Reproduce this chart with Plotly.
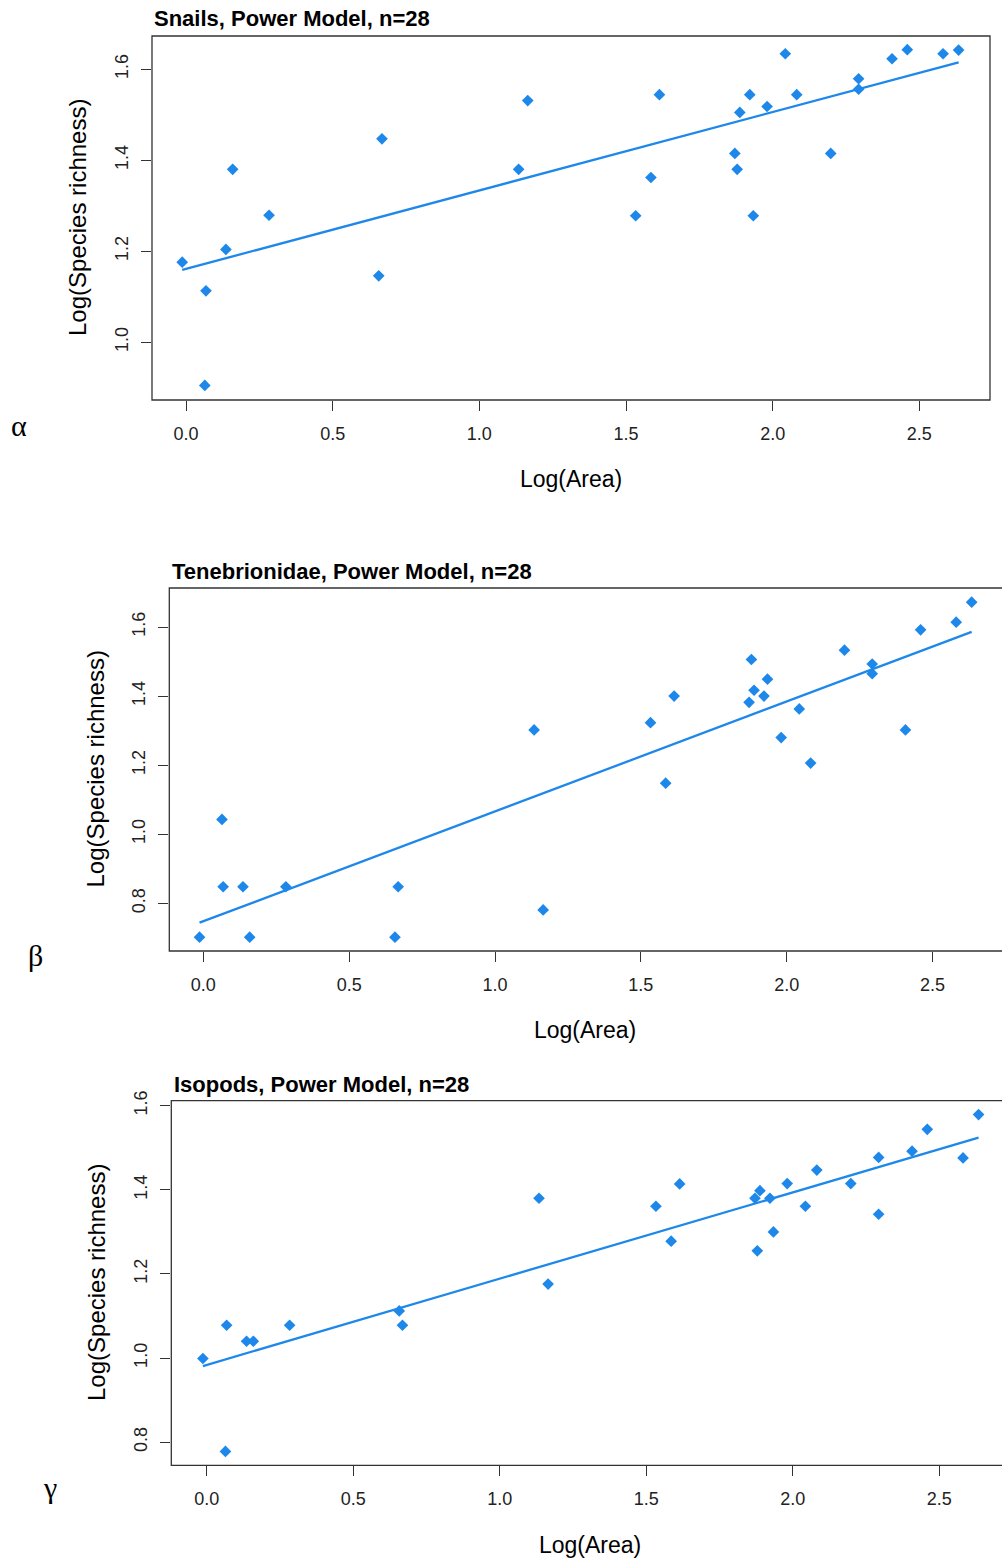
import plotly.graph_objects as go

W, H = 1002, 1562

# Shared island areas (Log(Area))
log_area = [-0.013, 0.064, 0.068, 0.136, 0.159, 0.283, 0.657, 0.668, 1.134, 1.165,
            1.533, 1.585, 1.614, 1.871, 1.879, 1.888, 1.922, 1.934, 1.981, 2.043,
            2.082, 2.198, 2.293, 2.293, 2.407, 2.459, 2.581, 2.634]

snails = [1.176, 0.905, 1.113, 1.204, 1.380, 1.279, 1.146, 1.447, 1.380, 1.531,
          1.278, 1.362, 1.544, 1.415, 1.380, 1.505, 1.544, 1.278, 1.518, 1.634,
          1.544, 1.415, 1.579, 1.556, 1.623, 1.643, 1.634, 1.642]

tenebrionidae = [0.702, 1.043, 0.848, 0.848, 0.702, 0.848, 0.702, 0.848, 1.302, 0.781,
                 1.323, 1.148, 1.400, 1.382, 1.506, 1.417, 1.400, 1.449, 1.280, 1.363,
                 1.206, 1.533, 1.493, 1.465, 1.302, 1.592, 1.614, 1.672]

isopods = [0.999, 0.778, 1.078, 1.040, 1.040, 1.078, 1.112, 1.078, 1.380, 1.176,
           1.361, 1.278, 1.414, 1.380, 1.255, 1.398, 1.380, 1.300, 1.415, 1.361,
           1.447, 1.415, 1.477, 1.342, 1.492, 1.544, 1.476, 1.579]

# Fitted power-model lines (end points)
fit_x = [-0.013, 2.634]
snails_fit = [1.159, 1.615]
teneb_fit = [0.744, 1.586]
isopods_fit = [0.981, 1.524]

titles = ["Snails, Power Model, n=28", "Tenebrionidae, Power Model, n=28",
          "Isopods, Power Model, n=28"]
greek = ["\u03b1", "\u03b2", "\u03b3"]
x_ticks = [0.0, 0.5, 1.0, 1.5, 2.0, 2.5]
x_ticktext = ["0.0", "0.5", "1.0", "1.5", "2.0", "2.5"]
y_ticks = [[1.0, 1.2, 1.4, 1.6], [0.8, 1.0, 1.2, 1.4, 1.6], [0.8, 1.0, 1.2, 1.4, 1.6]]
x_title = "Log(Area)"
y_title = "Log(Species richness)"

series = [snails, tenebrionidae, isopods]
fits = [snails_fit, teneb_fit, isopods_fit]

panels = [
    dict(l=152, r=990, br=990, t=36, b=400, xr=[-0.116, 2.741], yr=[0.873, 1.673],
         title_xy=(152, 19), ytitle_x=77, xtitle_y=479, greek_xy=(19, 425)),
    dict(l=169.3, r=1002, br=1004, t=588, b=951, xr=[-0.1166, 2.738], yr=[0.662, 1.713],
         title_xy=(170, 571), ytitle_x=95, xtitle_y=1030, greek_xy=(35, 955)),
    dict(l=171.3, r=1002, br=1010, t=1100.7, b=1465.3, xr=[-0.1208, 2.714], yr=[0.745, 1.612],
         title_xy=(171.5, 1084), ytitle_x=96, xtitle_y=1545, greek_xy=(50, 1487)),
]

BLUE = "#1E88EA"
AX = "#333333"
FONT = "Liberation Sans, Arial, sans-serif"

fig = go.Figure()
layout = dict(width=W, height=H, margin=dict(l=0, r=0, t=0, b=0, pad=0, autoexpand=False),
              paper_bgcolor="white", plot_bgcolor="white", showlegend=False,
              shapes=[], annotations=[])

def px(x):
    return x / W

def py(y):
    return 1 - y / H

for i, p in enumerate(panels):
    n = "" if i == 0 else str(i + 1)
    xa, ya = "x" + n, "y" + n
    fig.add_trace(go.Scatter(x=log_area, y=series[i], mode="markers", xaxis=xa, yaxis=ya,
                             marker=dict(symbol="diamond", size=9, color=BLUE,
                                         line=dict(width=0)), cliponaxis=False))
    fig.add_trace(go.Scatter(x=fit_x, y=fits[i], mode="lines", xaxis=xa, yaxis=ya,
                             line=dict(color=BLUE, width=2.3)))
    layout["xaxis" + n] = dict(domain=[px(p["l"]), px(p["r"])], range=p["xr"], anchor=ya,
                               tickvals=x_ticks, ticktext=x_ticktext, ticks="outside",
                               ticklen=10, tickwidth=1, tickcolor=AX, showgrid=False,
                               zeroline=False, showline=False, ticklabelstandoff=7,
                               automargin=False,
                               tickfont=dict(family=FONT, size=18, color="#222222"))
    layout["yaxis" + n] = dict(domain=[py(p["b"]), py(p["t"])], range=p["yr"], anchor=xa,
                               tickvals=y_ticks[i], ticktext=["%.1f" % v for v in y_ticks[i]],
                               ticks="outside", ticklen=10, tickwidth=1, tickcolor=AX,
                               showgrid=False, zeroline=False, showline=False,
                               tickangle=-90, ticklabelstandoff=6, automargin=False,
                               tickfont=dict(family=FONT, size=18, color="#222222"))
    layout["shapes"].append(dict(type="rect", xref="paper", yref="paper",
                                 x0=px(p["l"]), x1=px(p["br"]), y0=py(p["b"]), y1=py(p["t"]),
                                 line=dict(color=AX, width=1.3), layer="above"))
    layout["annotations"].append(dict(text="<b>%s</b>" % titles[i], xref="paper", yref="paper",
                                      x=px(p["title_xy"][0]), y=py(p["title_xy"][1]),
                                      xanchor="left", yanchor="middle", showarrow=False,
                                      font=dict(family=FONT, size=22, color="black")))
    layout["annotations"].append(dict(text=y_title, xref="paper", yref="paper",
                                      x=px(p["ytitle_x"]), y=py((p["t"] + p["b"]) / 2),
                                      xanchor="center", yanchor="middle", textangle=-90,
                                      showarrow=False,
                                      font=dict(family=FONT, size=24, color="black")))
    xt_center = [571, 585, 590][i]
    layout["annotations"].append(dict(text=x_title, xref="paper", yref="paper",
                                      x=px(xt_center), y=py(p["xtitle_y"]),
                                      xanchor="center", yanchor="middle", showarrow=False,
                                      font=dict(family=FONT, size=23, color="black")))
    layout["annotations"].append(dict(text=greek[i], xref="paper", yref="paper",
                                      x=px(p["greek_xy"][0]), y=py(p["greek_xy"][1]),
                                      xanchor="center", yanchor="middle", showarrow=False,
                                      font=dict(family="Liberation Serif, Times New Roman, serif",
                                                size=30, color="black")))

fig.update_layout(**layout)
fig.write_html("out.html", config={"displayModeBar": False},
               post_script="document.body.style.margin='0';document.body.style.padding='0';")
